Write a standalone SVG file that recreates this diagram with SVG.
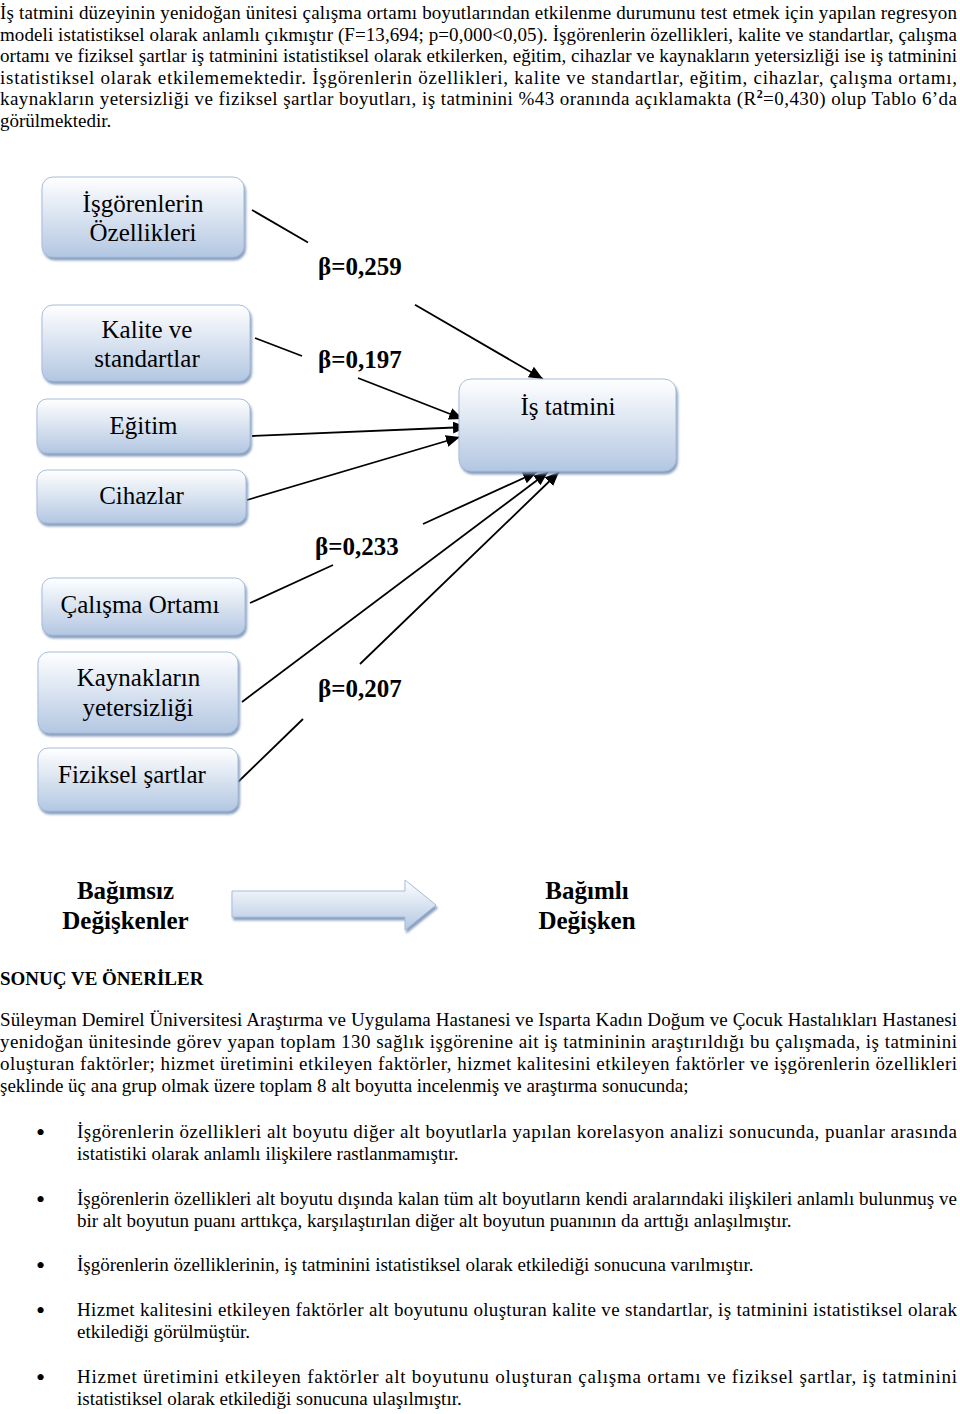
<svg xmlns="http://www.w3.org/2000/svg" width="960" height="1414" viewBox="0 0 960 1414">
<style>
  .body { font-family: "Liberation Serif", "Times New Roman", serif; font-size: 19px; fill: #000; }
  .bold { font-family: "Liberation Serif", "Times New Roman", serif; font-weight: bold; fill: #000; }
  .legend { font-family: "Liberation Serif", "Times New Roman", serif; font-weight: bold; font-size: 25px; fill: #000; text-anchor: middle; }
  .bullet { font-family: "Liberation Serif", "Times New Roman", serif; font-size: 26px; fill: #000; }
  .node-text { font-family: "Liberation Serif", "Times New Roman", serif; font-size: 25px; fill: #000; text-anchor: middle; }
  .beta { font-family: "Liberation Serif", "Times New Roman", serif; font-size: 25px; font-weight: bold; fill: #000; }
  .box { fill: url(#boxGrad); stroke: #a7bddb; stroke-width: 1; filter: url(#shadow); }
  .conn { stroke: #000; stroke-width: 1.8; fill: none; }
  .arrow { marker-end: url(#head); }
</style>
<defs>
  <linearGradient id="boxGrad" x1="0" y1="0" x2="0" y2="1">
    <stop offset="0" stop-color="#ffffff"/>
    <stop offset="1" stop-color="#b3c7e2"/>
  </linearGradient>
  <linearGradient id="arrowGrad" x1="0" y1="0" x2="0" y2="1">
    <stop offset="0" stop-color="#ffffff"/>
    <stop offset="1" stop-color="#b3c7e2"/>
  </linearGradient>
  <filter id="shadow" x="-10%" y="-10%" width="125%" height="130%">
    <feDropShadow dx="1.5" dy="3" stdDeviation="1.2" flood-color="#7d96ba" flood-opacity="0.9"/>
  </filter>
  <marker id="head" markerUnits="userSpaceOnUse" viewBox="0 0 14 12" markerWidth="14" markerHeight="12" refX="14" refY="6" orient="auto">
    <path d="M0,0 L14,6 L0,12 Z" fill="#000"/>
  </marker>
</defs>

<g id="paragraph-top" class="body">
  <text x="0" y="19" textLength="957" lengthAdjust="spacing">İş tatmini düzeyinin yenidoğan ünitesi çalışma ortamı boyutlarından etkilenme durumunu test etmek için yapılan regresyon</text>
  <text x="0" y="40.5" textLength="957" lengthAdjust="spacing">modeli istatistiksel olarak anlamlı çıkmıştır (F=13,694; p=0,000&lt;0,05). İşgörenlerin özellikleri, kalite ve standartlar, çalışma</text>
  <text x="0" y="62" textLength="957" lengthAdjust="spacing">ortamı ve fiziksel şartlar iş tatminini istatistiksel olarak etkilerken, eğitim, cihazlar ve kaynakların yetersizliği ise iş tatminini</text>
  <text x="0" y="83.5" textLength="957" lengthAdjust="spacing">istatistiksel olarak etkilememektedir. İşgörenlerin özellikleri, kalite ve standartlar, eğitim, cihazlar, çalışma ortamı,</text>
  <text x="0" y="105" textLength="957" lengthAdjust="spacing">kaynakların yetersizliği ve fiziksel şartlar boyutları, iş tatminini %43 oranında açıklamakta (R<tspan dy="-7" font-size="12" font-weight="bold">2</tspan><tspan dy="7">=0,430) olup Tablo 6’da</tspan></text>
  <text x="0" y="126.5">görülmektedir.</text>
</g>

<g id="connectors">
  <line class="conn" x1="252" y1="210" x2="308" y2="242.5"/>
  <line class="conn arrow" x1="415" y1="304.7" x2="543" y2="379"/>
  <line class="conn" x1="255" y1="338" x2="302" y2="356"/>
  <line class="conn arrow" x1="358" y1="378" x2="463" y2="419"/>
  <line class="conn arrow" x1="252" y1="436" x2="467" y2="427"/>
  <line class="conn arrow" x1="247" y1="500" x2="460" y2="437"/>
  <line class="conn" x1="250" y1="603" x2="333" y2="565"/>
  <line class="conn arrow" x1="423" y1="524" x2="537" y2="472"/>
  <line class="conn arrow" x1="242" y1="702" x2="548" y2="472"/>
  <line class="conn" x1="238" y1="782" x2="303" y2="719"/>
  <line class="conn arrow" x1="360" y1="664" x2="559" y2="472"/>
</g>

<g id="beta-labels">
  <text class="beta" x="318" y="275">β=0,259</text>
  <text class="beta" x="318" y="368">β=0,197</text>
  <text class="beta" x="315" y="555">β=0,233</text>
  <text class="beta" x="318" y="697">β=0,207</text>
</g>

<g id="node-isgorenlerin">
  <rect class="box" x="42" y="177" width="202" height="80" rx="11"/>
  <text class="node-text" x="143" y="212">İşgörenlerin</text>
  <text class="node-text" x="143" y="241">Özellikleri</text>
</g>
<g id="node-kalite">
  <rect class="box" x="42" y="305" width="208" height="76" rx="11"/>
  <text class="node-text" x="147" y="338">Kalite ve</text>
  <text class="node-text" x="147" y="367">standartlar</text>
</g>
<g id="node-egitim">
  <rect class="box" x="37" y="399" width="213" height="54" rx="10"/>
  <text class="node-text" x="143.5" y="434">Eğitim</text>
</g>
<g id="node-cihazlar">
  <rect class="box" x="37" y="470" width="209" height="53" rx="10"/>
  <text class="node-text" x="141.5" y="504">Cihazlar</text>
</g>
<g id="node-calisma">
  <rect class="box" x="42" y="578" width="203" height="57" rx="10"/>
  <text class="node-text" x="140" y="613">Çalışma Ortamı</text>
</g>
<g id="node-kaynaklar">
  <rect class="box" x="38" y="652" width="200" height="81" rx="11"/>
  <text class="node-text" x="138.5" y="686">Kaynakların</text>
  <text class="node-text" x="138" y="716">yetersizliği</text>
</g>
<g id="node-fiziksel">
  <rect class="box" x="38" y="748" width="200" height="63" rx="10"/>
  <text class="node-text" x="132" y="783">Fiziksel şartlar</text>
</g>
<g id="node-is-tatmini">
  <rect class="box" x="459" y="379" width="217" height="92" rx="12"/>
  <text class="node-text" x="568" y="415">İş tatmini</text>
</g>

<g id="legend">
  <text class="legend" x="125.5" y="899">Bağımsız</text>
  <text class="legend" x="125.5" y="929">Değişkenler</text>
  <path d="M232,891 L405,891 L405,880 L436,905 L405,930 L405,917 L232,917 Z" fill="url(#arrowGrad)" stroke="#a7bddb" stroke-width="1" filter="url(#shadow)"/>
  <text class="legend" x="587" y="899">Bağımlı</text>
  <text class="legend" x="587" y="929">Değişken</text>
</g>

<g id="conclusion" class="body">
  <text class="bold" font-size="19" x="0" y="985">SONUÇ VE ÖNERİLER</text>
  <text x="0" y="1026" textLength="957" lengthAdjust="spacing">Süleyman Demirel Üniversitesi Araştırma ve Uygulama Hastanesi ve Isparta Kadın Doğum ve Çocuk Hastalıkları Hastanesi</text>
  <text x="0" y="1048" textLength="957" lengthAdjust="spacing">yenidoğan ünitesinde görev yapan toplam 130 sağlık işgörenine ait iş tatmininin araştırıldığı bu çalışmada, iş tatminini</text>
  <text x="0" y="1070" textLength="957" lengthAdjust="spacing">oluşturan faktörler; hizmet üretimini etkileyen faktörler, hizmet kalitesini etkileyen faktörler ve işgörenlerin özellikleri</text>
  <text x="0" y="1092">şeklinde üç ana grup olmak üzere toplam 8 alt boyutta incelenmiş ve araştırma sonucunda;</text>

  <text class="bullet" x="36" y="1141">•</text>
  <text x="77" y="1138" textLength="880" lengthAdjust="spacing">İşgörenlerin özellikleri alt boyutu diğer alt boyutlarla yapılan korelasyon analizi sonucunda, puanlar arasında</text>
  <text x="77" y="1160">istatistiki olarak anlamlı ilişkilere rastlanmamıştır.</text>

  <text class="bullet" x="36" y="1208">•</text>
  <text x="77" y="1205" textLength="880" lengthAdjust="spacing">İşgörenlerin özellikleri alt boyutu dışında kalan tüm alt boyutların kendi aralarındaki ilişkileri anlamlı bulunmuş ve</text>
  <text x="77" y="1227">bir alt boyutun puanı arttıkça, karşılaştırılan diğer alt boyutun puanının da arttığı anlaşılmıştır.</text>

  <text class="bullet" x="36" y="1274">•</text>
  <text x="77" y="1271">İşgörenlerin özelliklerinin, iş tatminini istatistiksel olarak etkilediği sonucuna varılmıştır.</text>

  <text class="bullet" x="36" y="1319">•</text>
  <text x="77" y="1316" textLength="880" lengthAdjust="spacing">Hizmet kalitesini etkileyen faktörler alt boyutunu oluşturan kalite ve standartlar, iş tatminini istatistiksel olarak</text>
  <text x="77" y="1338">etkilediği görülmüştür.</text>

  <text class="bullet" x="36" y="1386">•</text>
  <text x="77" y="1383" textLength="880" lengthAdjust="spacing">Hizmet üretimini etkileyen faktörler alt boyutunu oluşturan çalışma ortamı ve fiziksel şartlar, iş tatminini</text>
  <text x="77" y="1405">istatistiksel olarak etkilediği sonucuna ulaşılmıştır.</text>
</g>
</svg>
